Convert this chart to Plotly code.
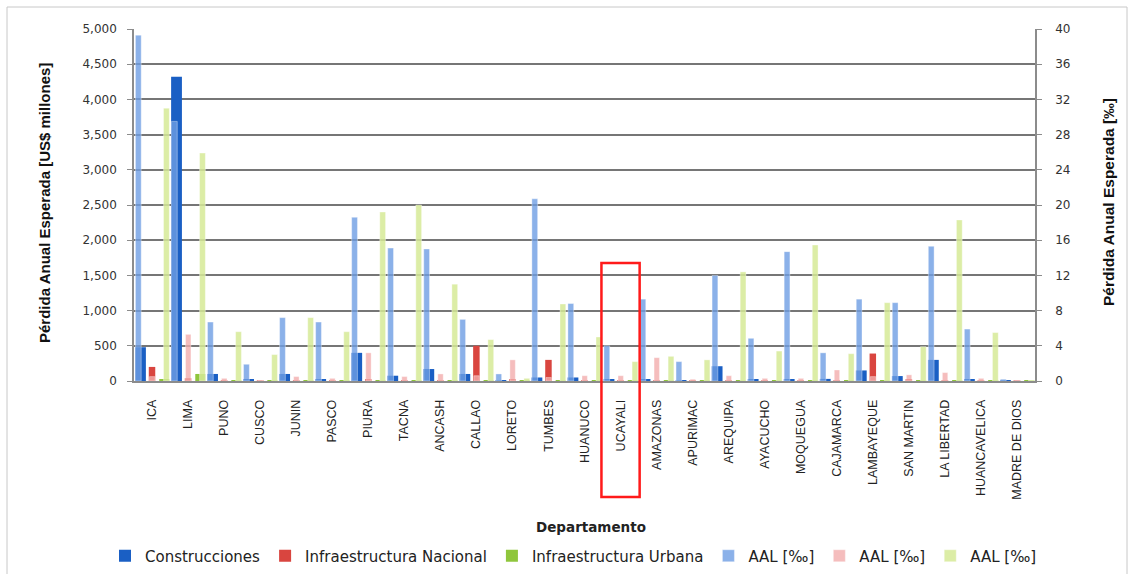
import plotly.graph_objects as go

departamentos = ["ICA", "LIMA", "PUNO", "CUSCO", "JUNIN", "PASCO", "PIURA", "TACNA", "ANCASH",
                 "CALLAO", "LORETO", "TUMBES", "HUANUCO", "UCAYALI", "AMAZONAS", "APURIMAC",
                 "AREQUIPA", "AYACUCHO", "MOQUEGUA", "CAJAMARCA", "LAMBAYEQUE", "SAN MARTIN",
                 "LA LIBERTAD", "HUANCAVELICA", "MADRE DE DIOS"]

# Pérdida anual esperada [US$ millones] (eje izquierdo)
construcciones = [480, 4320, 100, 20, 100, 20, 400, 75, 170, 100, 10, 50, 50, 15, 20, 10,
                  210, 20, 20, 30, 150, 70, 300, 20, 5]
infra_nacional = [200, 40, 10, 10, 10, 10, 20, 10, 10, 500, 15, 300, 10, 5, 10, 5,
                  10, 5, 10, 10, 390, 20, 10, 5, 2]
infra_urbana = [20, 100, 10, 5, 10, 5, 10, 10, 10, 10, 5, 5, 5, 5, 5, 2,
                10, 5, 5, 5, 10, 5, 10, 5, 2]

# Pérdida anual esperada [‰] (eje derecho)
aal_construcciones = [39.3, 29.5, 6.7, 1.9, 7.2, 6.7, 18.6, 15.1, 15.0, 7.0, 0.8, 20.7, 8.8, 4.0,
                      9.3, 2.2, 12.0, 4.85, 14.7, 3.2, 9.3, 8.9, 15.3, 5.9, 0.2]
aal_nacional = [0.5, 5.3, 0.3, 0.1, 0.5, 0.3, 3.2, 0.5, 0.8, 0.6, 2.4, 0.4, 0.6, 0.6,
                2.65, 0.2, 0.6, 0.3, 0.3, 1.25, 0.5, 0.7, 0.95, 0.3, 0.1]
aal_urbana = [31.0, 25.9, 5.6, 3.0, 7.2, 5.6, 19.2, 20.0, 11.0, 4.7, 0.3, 8.75, 5.0, 2.2,
              2.8, 2.4, 12.4, 3.4, 15.45, 3.1, 8.9, 3.9, 18.3, 5.5, 0.1]

highlight = "UCAYALI"

fig = go.Figure()
prim = [
    ("Construcciones", construcciones, "#1a5fc4", -0.47, 0.30),
    ("Infraestructura Nacional", infra_nacional, "#d9453f", -0.09, 0.18),
    ("Infraestructura Urbana", infra_urbana, "#8fc63c", 0.20, 0.28),
]
for name, vals, col, off, w in prim:
    fig.add_trace(go.Bar(x=departamentos, y=vals, name=name, marker=dict(color=col, line=dict(width=0)),
                         offset=off, width=w, yaxis="y"))
sec = [
    (aal_construcciones, "rgba(110,158,228,0.80)", -0.46, 0.16),
    (aal_nacional, "rgba(242,172,172,0.80)", -0.07, 0.15),
    (aal_urbana, "rgba(214,234,150,0.85)", 0.32, 0.16),
]
for vals, col, off, w in sec:
    fig.add_trace(go.Bar(x=departamentos, y=vals, name="AAL [‰]",
                         marker=dict(color=col, line=dict(width=0.6, color="rgba(255,255,255,0.6)")),
                         offset=off, width=w, yaxis="y2"))

L, R, T, B = 134, 1035, 29, 381
W, H = 1133, 574
pw, ph = R - L, B - T


def px(xp):
    return (xp - L) / pw


def py(yp):
    return (B - yp) / ph


tickfont = dict(family="DejaVu Sans", size=12, color="#333333")
idx = departamentos.index(highlight)

fig.update_layout(
    width=W, height=H, autosize=False,
    margin=dict(l=L, r=W - R, t=T, b=H - B, autoexpand=False),
    paper_bgcolor="white", plot_bgcolor="white",
    barmode="overlay",
    legend=dict(orientation="h", x=px(105), xanchor="left", y=py(556), yanchor="middle",
                font=dict(family="DejaVu Sans", size=15, color="#222222"),
                itemwidth=30, tracegroupgap=0),
    xaxis=dict(type="category", range=[-0.5, len(departamentos) - 0.5], tickangle=-90,
               tickfont=dict(family="Liberation Sans", size=12.5, color="#222222"),
               showline=True, linecolor="#8c8c8c", linewidth=1.5, ticks="", showgrid=False,
               ticklabelstandoff=12, automargin=False),
    yaxis=dict(range=[0, 5000], dtick=500, tickformat=",", tickfont=tickfont,
               showline=True, linecolor="#8c8c8c", linewidth=1.5,
               ticks="outside", ticklen=5, tickcolor="#8c8c8c",
               showgrid=True, gridcolor="#767676", gridwidth=2, zeroline=False,
               ticklabelstandoff=8, automargin=False),
    yaxis2=dict(range=[0, 40], dtick=4, overlaying="y", side="right", tickfont=tickfont,
                showline=True, linecolor="#8c8c8c", linewidth=1.5,
                ticks="outside", ticklen=5, tickcolor="#8c8c8c",
                showgrid=False, zeroline=False, ticklabelstandoff=11, automargin=False),
    annotations=[
        dict(text="<b>Pérdida Anual Esperada [US$ millones]</b>", xref="paper", yref="paper",
             x=px(45), y=py(203), textangle=-90, showarrow=False, xanchor="center", yanchor="middle",
             font=dict(family="Liberation Sans", size=15, color="#111111")),
        dict(text="<b>Pérdida Anual Esperada [‰]</b>", xref="paper", yref="paper",
             x=px(1108), y=py(202), textangle=-90, showarrow=False, xanchor="center", yanchor="middle",
             font=dict(family="Liberation Sans", size=15.5, color="#111111")),
        dict(text="<b>Departamento</b>", xref="paper", yref="paper",
             x=px(591), y=py(527), showarrow=False, xanchor="center", yanchor="middle",
             font=dict(family="DejaVu Sans", size=13.5, color="#222222")),
    ],
    shapes=[
        dict(type="rect", xref="paper", yref="paper", x0=px(7), x1=px(1127), y0=py(590), y1=py(7),
             line=dict(color="#c8c8c8", width=1), layer="below"),
        dict(type="rect", xref="x", yref="paper", x0=idx - 0.53, x1=idx + 0.53, y0=py(497), y1=py(263),
             line=dict(color="#ff1a1a", width=2.5), layer="above"),
    ],
)

fig.write_html("out.html", config={"displayModeBar": False},
               post_script="document.body.style.margin='0';document.body.style.overflow='hidden';")
